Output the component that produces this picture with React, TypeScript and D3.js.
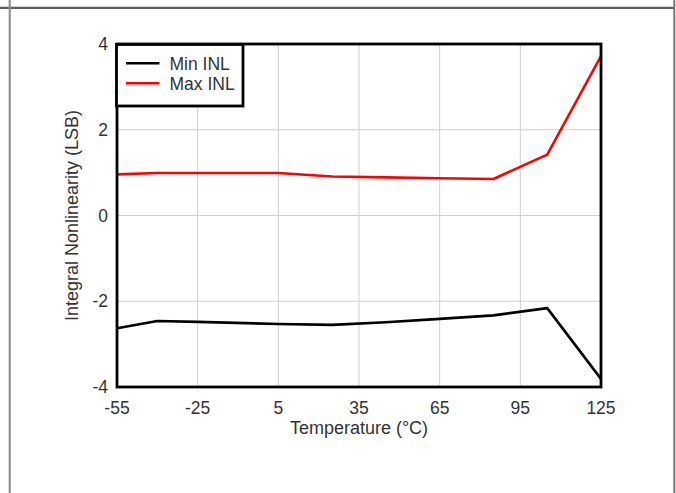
import React from "react";
import * as d3 from "d3";

const temps = [-55, -40, -25, 5, 25, 45, 65, 85, 105, 125];
const minINL = [-2.63, -2.46, -2.48, -2.53, -2.55, -2.49, -2.41, -2.33, -2.16, -3.81];
const maxINL = [0.96, 0.99, 0.99, 0.99, 0.91, 0.89, 0.87, 0.85, 1.42, 3.72];
const xTicks = [-55, -25, 5, 35, 65, 95, 125];
const yTicks = [-4, -2, 0, 2, 4];
const seriesNames = ["Min INL", "Max INL"];
const seriesColors = ["#000000", "#ff0000"];

const W = 676;
const H = 493;
const m = { left: 117, right: 601, top: 44, bottom: 387 };
const FONT = "'Liberation Sans', Arial, sans-serif";

export default function App() {
  const x = d3.scaleLinear().domain([-55, 125]).range([m.left, m.right]);
  const y = d3.scaleLinear().domain([-4, 4]).range([m.bottom, m.top]);
  const line = d3
    .line<[number, number]>()
    .x((d) => x(d[0]))
    .y((d) => y(d[1]));
  const series = [minINL, maxINL];

  return (
    <svg
      width={W}
      height={H}
      style={{ position: "absolute", left: 0, top: 0, background: "#fff" }}
      fontFamily={FONT}
    >
      {/* page frame */}
      <line x1={0} x2={675} y1={6.5} y2={6.5} stroke="#d8d8d8" strokeWidth={1} />
      <line x1={0} x2={675} y1={8} y2={8} stroke="#2a2a2a" strokeWidth={1.5} />
      <line x1={9.7} x2={9.7} y1={0} y2={H} stroke="#888" strokeWidth={2} />
      <line x1={674.3} x2={674.3} y1={0} y2={H} stroke="#777" strokeWidth={2} />

      {/* grid */}
      {xTicks.slice(1, -1).map((t) => (
        <line key={"gx" + t} x1={x(t)} x2={x(t)} y1={m.top} y2={m.bottom} stroke="#cfcfcf" strokeWidth={1} />
      ))}
      {yTicks.slice(1, -1).map((t) => (
        <line key={"gy" + t} x1={m.left} x2={m.right} y1={y(t)} y2={y(t)} stroke="#cfcfcf" strokeWidth={1} />
      ))}

      {/* data */}
      <clipPath id="plotclip">
        <rect x={m.left} y={m.top} width={m.right - m.left} height={m.bottom - m.top} />
      </clipPath>
      {series.map((s, i) => (
        <path
          key={"s" + i}
          d={line(temps.map((t, j) => [t, s[j]] as [number, number])) || ""}
          fill="none"
          stroke={seriesColors[i]}
          strokeWidth={2.6}
          strokeLinejoin="round"
          clipPath="url(#plotclip)"
        />
      ))}

      {/* plot frame */}
      <rect
        x={m.left}
        y={m.top}
        width={m.right - m.left}
        height={m.bottom - m.top}
        fill="none"
        stroke="#000"
        strokeWidth={2.8}
      />

      {/* x tick labels */}
      {xTicks.map((t) => (
        <text key={"xt" + t} x={x(t)} y={413.5} textAnchor="middle" fontSize={17.5} fill="#333">
          {t}
        </text>
      ))}
      {/* y tick labels */}
      {yTicks.map((t) => (
        <text key={"yt" + t} x={108} y={y(t) + 6.2} textAnchor="end" fontSize={17.5} fill="#333">
          {t}
        </text>
      ))}

      {/* axis titles */}
      <text x={(m.left + m.right) / 2} y={434} textAnchor="middle" fontSize={18} fill="#333">
        Temperature (°C)
      </text>
      <text
        transform={`translate(77.5,${(m.top + m.bottom) / 2}) rotate(-90)`}
        textAnchor="middle"
        fontSize={18}
        fill="#333"
      >
        Integral Nonlinearity (LSB)
      </text>

      {/* legend */}
      <rect x={116.5} y={44.5} width={126.5} height={61.5} fill="#fff" stroke="#000" strokeWidth={2.8} />
      {seriesNames.map((n, i) => (
        <g key={"lg" + i}>
          <line
            x1={126}
            x2={159.5}
            y1={63.3 + i * 20}
            y2={63.3 + i * 20}
            stroke={seriesColors[i]}
            strokeWidth={2.6}
          />
          <text x={169.5} y={69.7 + i * 20} fontSize={17.5} fill="#333">
            {n}
          </text>
        </g>
      ))}
    </svg>
  );
}
